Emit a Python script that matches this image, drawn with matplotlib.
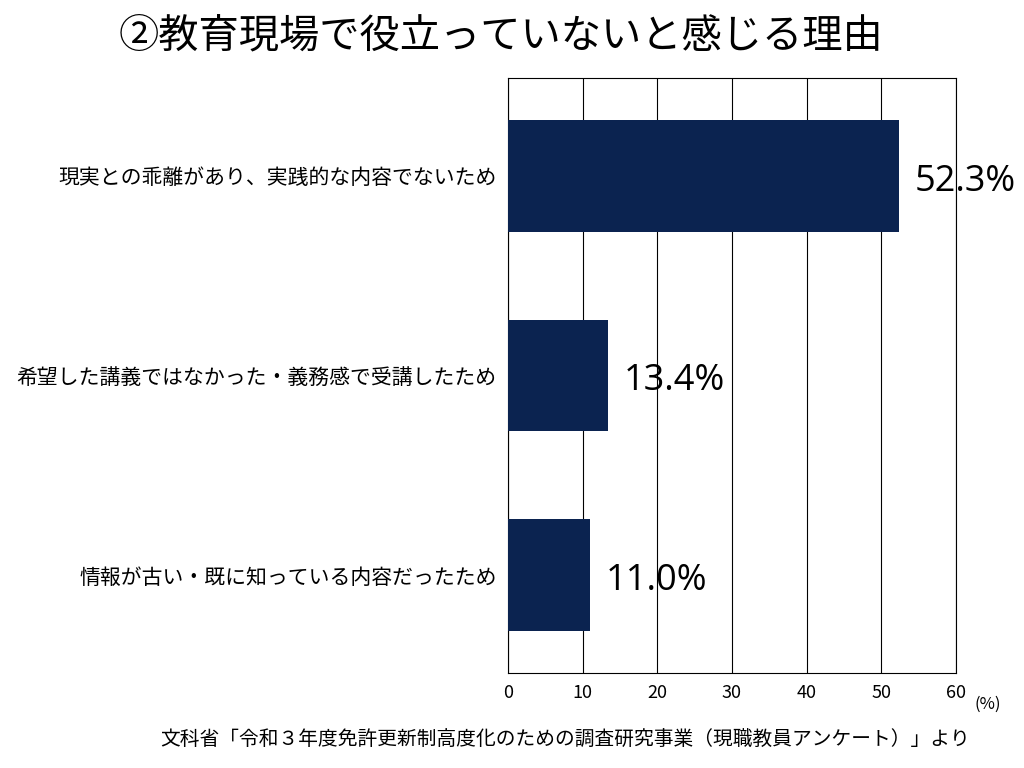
import matplotlib
matplotlib.use("Agg")
import matplotlib.pyplot as plt

plt.rcParams["font.family"] = "Noto Sans CJK JP"

categories = ["現実との乖離があり、実践的な内容でないため",
              "希望した講義ではなかった・義務感で受講したため",
              "情報が古い・既に知っている内容だったため"]
values = [52.3, 13.4, 11.0]
xticks = [0, 10, 20, 30, 40, 50, 60]

fig = plt.figure(figsize=(10.24, 7.68), dpi=100)
ax = fig.add_axes([508/1024, 1-673/768, 448/1024, 595/768])
ypos = list(range(len(categories)))
ax.barh(ypos, values, height=0.56, color="#0b2350", zorder=3)
ax.set_ylim(2.49, -0.49)
ax.set_xlim(0, 60)
ax.set_xticks(xticks)
ax.set_xticklabels([str(t) for t in xticks], fontsize=13)
ax.set_yticks(ypos)
ax.set_yticklabels(categories, fontsize=15)
ax.tick_params(axis="y", length=0, pad=8)
ax.tick_params(axis="x", length=0, pad=8)
ax.grid(axis="x", color="black", linewidth=0.8, zorder=0)
for s in ax.spines.values():
    s.set_color("black"); s.set_linewidth(0.8)
for y, v in zip(ypos, values):
    ax.text(v + 2.1, y + 0.03, f"{v:.1f}%", va="center", ha="left", fontsize=26, family="Open Sans")
fig.text(975/1024, 1-704/768, "(%)", fontsize=12, ha="left", va="center")
fig.text(501/1024, 1-36/768, "②教育現場で役立っていないと感じる理由", fontsize=29, ha="center", va="center")
fig.text(565/1024, 1-740/768, "文科省「令和３年度免許更新制高度化のための調査研究事業（現職教員アンケート）」より",
         fontsize=14.2, ha="center", va="center")
fig.savefig("out.png", dpi=100)
